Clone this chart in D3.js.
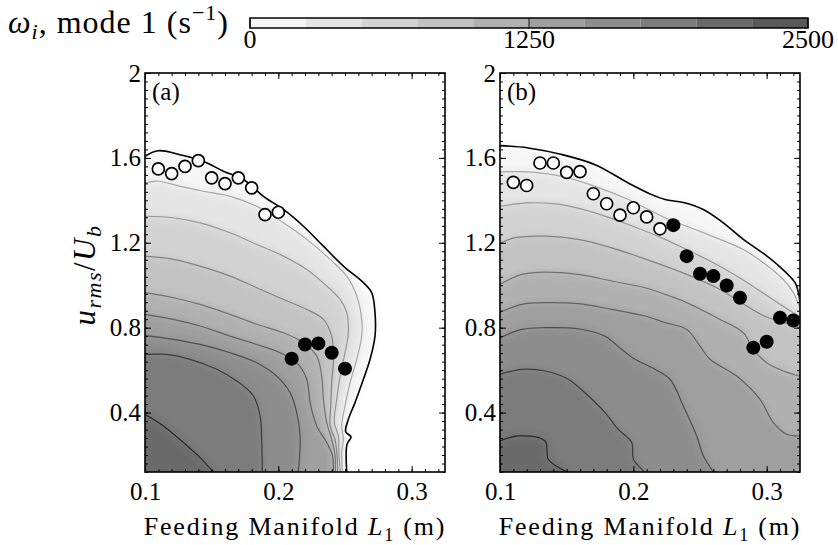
<!DOCTYPE html>
<html>
<head>
<meta charset="utf-8">
<script src="https://cdn.jsdelivr.net/npm/d3@7"></script>
<style>
  body { margin: 0; background: #fff; }
  svg text { font-family: "Liberation Serif", "DejaVu Serif", serif; }
</style>
</head>
<body>
<svg id="chart" width="838" height="545"></svg>
<script>
// contour levels of omega_i (s^-1), one line per level, boundary (0) first
const levels = [0, 250, 500, 750, 1000, 1250, 1500, 1750, 2000];
const barTicks = [0, 1250, 2500];
const xTicks = [0.1, 0.2, 0.3];
const yTicks = [0.4, 0.8, 1.2, 1.6, 2];

// panel (a): contour lines as [L1 (m), u_rms/U_b]
const contoursA = [
  [[0.1,1.608],[0.11,1.634],[0.1288,1.611],[0.1438,1.584],[0.1588,1.537],[0.1738,1.498],[0.1888,1.419],[0.2038,1.357],[0.2188,1.278],[0.2338,1.184],[0.2488,1.09],[0.2638,1.012],[0.27,0.965],[0.2725,0.871],[0.2725,0.76],[0.2688,0.651],[0.2638,0.557],[0.2575,0.447],[0.2525,0.368],[0.2505,0.31],[0.2545,0.285],[0.2515,0.25],[0.2513,0.12]],
  [[0.1,1.482],[0.11,1.49],[0.1263,1.466],[0.1438,1.443],[0.1638,1.419],[0.1838,1.372],[0.2038,1.294],[0.2213,1.216],[0.2388,1.122],[0.2513,1.043],[0.2588,0.949],[0.2625,0.839],[0.2625,0.76],[0.2588,0.651],[0.2538,0.541],[0.25,0.431],[0.2475,0.337],[0.2488,0.274],[0.2475,0.212],[0.2482,0.12]],
  [[0.1,1.325],[0.1213,1.318],[0.1413,1.294],[0.1638,1.247],[0.1838,1.192],[0.2038,1.137],[0.2213,1.074],[0.2363,0.996],[0.2463,0.933],[0.2513,0.871],[0.2525,0.776],[0.25,0.682],[0.2463,0.572],[0.2438,0.462],[0.242,0.353],[0.245,0.29],[0.2455,0.2],[0.2465,0.12]],
  [[0.1,1.137],[0.1213,1.122],[0.1413,1.09],[0.1638,1.043],[0.1838,0.988],[0.2038,0.933],[0.2213,0.886],[0.2338,0.839],[0.24,0.76],[0.2413,0.651],[0.24,0.541],[0.2393,0.431],[0.2388,0.337],[0.2425,0.274],[0.244,0.2],[0.2445,0.12]],
  [[0.1,0.965],[0.1213,0.941],[0.1413,0.91],[0.1638,0.863],[0.1838,0.816],[0.2038,0.776],[0.2188,0.729],[0.2288,0.666],[0.2325,0.572],[0.2338,0.462],[0.2363,0.353],[0.24,0.274],[0.2425,0.2],[0.2428,0.12]],
  [[0.1,0.863],[0.1213,0.839],[0.1413,0.808],[0.1638,0.76],[0.1838,0.721],[0.2013,0.682],[0.2138,0.635],[0.2213,0.557],[0.2238,0.447],[0.2288,0.337],[0.2363,0.259],[0.2405,0.2],[0.2413,0.12]],
  [[0.1,0.764],[0.1213,0.745],[0.1413,0.721],[0.1638,0.682],[0.1838,0.635],[0.1988,0.572],[0.2088,0.494],[0.2138,0.4],[0.2163,0.29],[0.215,0.12]],
  [[0.1,0.674],[0.1163,0.674],[0.1338,0.651],[0.1538,0.604],[0.1688,0.549],[0.1813,0.478],[0.1863,0.384],[0.1875,0.274],[0.188,0.12]],
  [[0.1,0.392],[0.1138,0.337],[0.1288,0.259],[0.1413,0.188],[0.1513,0.12]]
];
const openA = [[0.11,1.548],[0.12,1.526],[0.13,1.56],[0.14,1.587],[0.15,1.506],[0.16,1.479],[0.17,1.506],[0.18,1.459],[0.19,1.333],[0.20,1.344]];
const filledA = [[0.21,0.654],[0.22,0.721],[0.23,0.726],[0.24,0.682],[0.25,0.607]];

// panel (b)
const contoursB = [
  [[0.1,1.658],[0.1212,1.647],[0.1463,1.616],[0.1713,1.568],[0.1962,1.482],[0.2138,1.427],[0.2238,1.404],[0.2375,1.39],[0.2525,1.357],[0.2675,1.294],[0.2825,1.216],[0.2975,1.15],[0.3075,1.1],[0.3213,1.012],[0.3238,0.965],[0.325,0.92]],
  [[0.1,1.534],[0.1212,1.534],[0.1463,1.513],[0.1713,1.466],[0.1962,1.404],[0.2238,1.318],[0.2475,1.26],[0.2675,1.21],[0.2825,1.168],[0.2975,1.106],[0.3125,1.027],[0.32,0.965],[0.325,0.89]],
  [[0.1,1.372],[0.1212,1.388],[0.1463,1.38],[0.1713,1.341],[0.1962,1.286],[0.2238,1.216],[0.24,1.168],[0.26,1.106],[0.2775,1.043],[0.295,0.973],[0.31,0.91],[0.325,0.85]],
  [[0.1,1.197],[0.1113,1.224],[0.1338,1.231],[0.1587,1.216],[0.1838,1.176],[0.215,1.11],[0.24,1.051],[0.265,0.98],[0.285,0.902],[0.3,0.85],[0.315,0.82],[0.325,0.8]],
  [[0.1,1.004],[0.1163,1.051],[0.1338,1.062],[0.1587,1.051],[0.1838,1.02],[0.2088,0.988],[0.2238,0.957],[0.24,0.918],[0.265,0.839],[0.2825,0.776],[0.29,0.698],[0.3,0.635],[0.3125,0.596],[0.325,0.572]],
  [[0.1,0.873],[0.1163,0.91],[0.1338,0.918],[0.1587,0.913],[0.1838,0.886],[0.2088,0.855],[0.2238,0.824],[0.24,0.792],[0.25,0.713],[0.2575,0.651],[0.2775,0.572],[0.295,0.462],[0.305,0.353],[0.315,0.298],[0.325,0.29]],
  [[0.1,0.753],[0.1163,0.792],[0.1338,0.8],[0.1587,0.795],[0.1788,0.76],[0.1912,0.698],[0.2013,0.651],[0.2163,0.604],[0.2275,0.557],[0.2375,0.431],[0.2475,0.29],[0.2525,0.196],[0.26,0.12]],
  [[0.1,0.58],[0.1163,0.604],[0.1338,0.596],[0.1512,0.557],[0.1663,0.478],[0.1788,0.4],[0.1887,0.321],[0.1988,0.259],[0.2,0.18],[0.2063,0.133],[0.208,0.12]],
  [[0.1,0.266],[0.1137,0.29],[0.1338,0.266],[0.1362,0.18],[0.1463,0.133],[0.1512,0.12]]
];
const openB = [[0.11,1.485],[0.12,1.47],[0.13,1.576],[0.14,1.576],[0.15,1.532],[0.16,1.535],[0.17,1.431],[0.18,1.384],[0.19,1.33],[0.20,1.365],[0.21,1.322],[0.22,1.266]];
const filledB = [[0.23,1.283],[0.24,1.137],[0.25,1.054],[0.26,1.043],[0.27,0.999],[0.28,0.941],[0.29,0.706],[0.30,0.734],[0.31,0.847],[0.32,0.834]];

const svg = d3.select('#chart');
const fill = d3.scaleLinear().domain([0, 2500]).range(['#ffffff', '#505050']);
const lineColor = d3.scaleLinear().domain([250, 2000]).range(['#a8a8a8', '#2a2a2a']);

const plotTop = 73, plotBottom = 472, pad = 30;
const panels = [
  {id: 'a', left: 145, right: 445, lines: contoursA, open: openA, filled: filledA},
  {id: 'b', left: 500, right: 800, lines: contoursB, open: openB, filled: filledB}
];

const defs = svg.append('defs');
defs.append('filter').attr('id', 'soft')
  .append('feGaussianBlur').attr('stdDeviation', 5);

const minorX = d3.range(10, 33).map(i => i / 100);
const minorY = d3.range(3, 51).map(i => i * 0.04);

panels.forEach(p => {
  const x = d3.scaleLinear().domain([0.1, 0.325]).range([p.left, p.right]);
  const y = d3.scaleLinear().domain([0.12, 2]).range([plotBottom, plotTop]);

  defs.append('clipPath').attr('id', 'clip-' + p.id).append('rect')
    .attr('x', p.left).attr('y', plotTop)
    .attr('width', p.right - p.left).attr('height', plotBottom - plotTop);

  const plot = svg.append('g').attr('clip-path', `url(#clip-${p.id})`);
  const soft = plot.append('g').attr('filter', 'url(#soft)');
  soft.append('rect')
    .attr('x', p.left - pad).attr('y', plotTop - pad)
    .attr('width', p.right - p.left + 2 * pad).attr('height', plotBottom - plotTop + 2 * pad)
    .attr('fill', '#fff');

  const curve = d3.line().x(d => x(d[0])).y(d => y(d[1])).curve(d3.curveCatmullRom.alpha(0.5));

  // area above each level: the line, closed round the lower-left corner
  function region(pts) {
    const first = pts[0], last = pts[pts.length - 1];
    const x0 = p.left - pad, x1 = p.right + pad, yb = plotBottom + pad;
    const tail = [];
    if (last[0] >= 0.3249) tail.push([x1, y(last[1])], [x1, yb]);
    else tail.push([x(last[0]), yb]);
    tail.push([x0, yb], [x0, y(first[1])]);
    return curve(pts) + tail.map(t => 'L' + t[0] + ',' + t[1]).join('') + 'Z';
  }

  soft.selectAll('path.band').data(p.lines).join('path')
    .attr('class', 'band')
    .attr('d', region)
    .attr('fill', (d, i) => fill(levels[i] + 125));

  plot.selectAll('path.iso').data(p.lines).join('path')
    .attr('class', 'iso')
    .attr('d', curve)
    .attr('fill', 'none')
    .attr('stroke', (d, i) => i === 0 ? '#000' : lineColor(levels[i]))
    .attr('stroke-width', (d, i) => i === 0 ? 1.6 : 1.2);

  // axes, ticks pointing inward on all four sides
  const axes = svg.append('g');
  const noDomain = g => g.select('.domain').remove();
  axes.append('g').attr('transform', `translate(0,${plotBottom})`)
    .call(d3.axisBottom(x).tickValues(minorX).tickSize(-3).tickFormat('')).call(noDomain);
  axes.append('g').attr('transform', `translate(0,${plotBottom})`)
    .call(d3.axisBottom(x).tickValues(xTicks).tickSize(-6).tickPadding(10).tickFormat(d3.format('.1f'))).call(noDomain);
  axes.append('g').attr('transform', `translate(0,${plotTop})`)
    .call(d3.axisTop(x).tickValues(minorX).tickSize(-3).tickFormat('')).call(noDomain);
  axes.append('g').attr('transform', `translate(0,${plotTop})`)
    .call(d3.axisTop(x).tickValues(xTicks).tickSize(-6).tickFormat('')).call(noDomain);
  axes.append('g').attr('transform', `translate(${p.left},0)`)
    .call(d3.axisLeft(y).tickValues(minorY).tickSize(-3).tickFormat('')).call(noDomain);
  axes.append('g').attr('transform', `translate(${p.left},0)`)
    .call(d3.axisLeft(y).tickValues(yTicks).tickSize(-6).tickPadding(4).tickFormat(d => d === 2 ? '2' : d.toFixed(1))).call(noDomain);
  axes.append('g').attr('transform', `translate(${p.right},0)`)
    .call(d3.axisRight(y).tickValues(minorY).tickSize(-3).tickFormat('')).call(noDomain);
  axes.append('g').attr('transform', `translate(${p.right},0)`)
    .call(d3.axisRight(y).tickValues(yTicks).tickSize(-6).tickFormat('')).call(noDomain);
  axes.selectAll('g').attr('font-family', null).attr('font-size', 25);

  svg.append('rect')
    .attr('x', p.left).attr('y', plotTop)
    .attr('width', p.right - p.left).attr('height', plotBottom - plotTop)
    .attr('fill', 'none').attr('stroke', '#000').attr('stroke-width', 1.6);

  svg.append('g').selectAll('circle').data(p.open).join('circle')
    .attr('cx', d => x(d[0])).attr('cy', d => y(d[1])).attr('r', 6)
    .attr('fill', '#fff').attr('stroke', '#000').attr('stroke-width', 1.7);
  svg.append('g').selectAll('circle').data(p.filled).join('circle')
    .attr('cx', d => x(d[0])).attr('cy', d => y(d[1])).attr('r', 7)
    .attr('fill', '#000');

  svg.append('text').attr('x', p.left + 7).attr('y', 100)
    .attr('font-size', 25).text(`(${p.id})`);

  const xt = svg.append('text').attr('x', (p.left + p.right) / 2).attr('y', 535)
    .attr('text-anchor', 'middle').attr('font-size', 26).attr('letter-spacing', 1.8);
  xt.append('tspan').text('Feeding Manifold ');
  xt.append('tspan').attr('font-style', 'italic').text('L');
  xt.append('tspan').attr('font-size', 18).attr('dy', 6).text('1');
  xt.append('tspan').attr('dy', -6).text(' (m)');
});

// y title
const yt = svg.append('text').attr('transform', 'translate(95,275) rotate(-90)')
  .attr('text-anchor', 'middle').attr('font-size', 31).attr('letter-spacing', 1.5);
yt.append('tspan').attr('font-style', 'italic').text('u');
yt.append('tspan').attr('font-style', 'italic').attr('font-size', 22).attr('dy', 6).text('rms');
yt.append('tspan').attr('dy', -6).text('/');
yt.append('tspan').attr('font-style', 'italic').text('U');
yt.append('tspan').attr('font-style', 'italic').attr('font-size', 22).attr('dy', 6).text('b');

// colour bar
const cb = d3.scaleLinear().domain([0, 2500]).range([250, 808]);
const barTop = 18, barH = 10;
const title = svg.append('text').attr('x', 8).attr('y', 33).attr('font-size', 32).attr('letter-spacing', 1);
title.append('tspan').attr('font-style', 'italic').text('ω');
title.append('tspan').attr('font-style', 'italic').attr('font-size', 22).attr('dy', 6).text('i');
title.append('tspan').attr('dy', -6).text(', mode 1 (s');
title.append('tspan').attr('font-size', 22).attr('dy', -13).text('−1');
title.append('tspan').attr('dy', 13).text(')');

svg.append('g').selectAll('rect').data(d3.range(0, 2500, 250)).join('rect')
  .attr('x', d => cb(d)).attr('y', barTop)
  .attr('width', d => cb(d + 250) - cb(d)).attr('height', barH)
  .attr('fill', d => fill(d + 125));
svg.append('g').selectAll('line').data(barTicks).join('line')
  .attr('x1', d => cb(d)).attr('x2', d => cb(d))
  .attr('y1', barTop).attr('y2', barTop + barH)
  .attr('stroke', '#333').attr('stroke-width', 1.2);
svg.append('rect').attr('x', cb(0)).attr('y', barTop)
  .attr('width', cb(2500) - cb(0)).attr('height', barH)
  .attr('fill', 'none').attr('stroke', '#000').attr('stroke-width', 1.5);
svg.append('g').selectAll('text').data(barTicks).join('text')
  .attr('x', d => cb(d)).attr('y', 48)
  .attr('text-anchor', 'middle').attr('font-size', 26)
  .text(d => d);
</script>
</body>
</html>
